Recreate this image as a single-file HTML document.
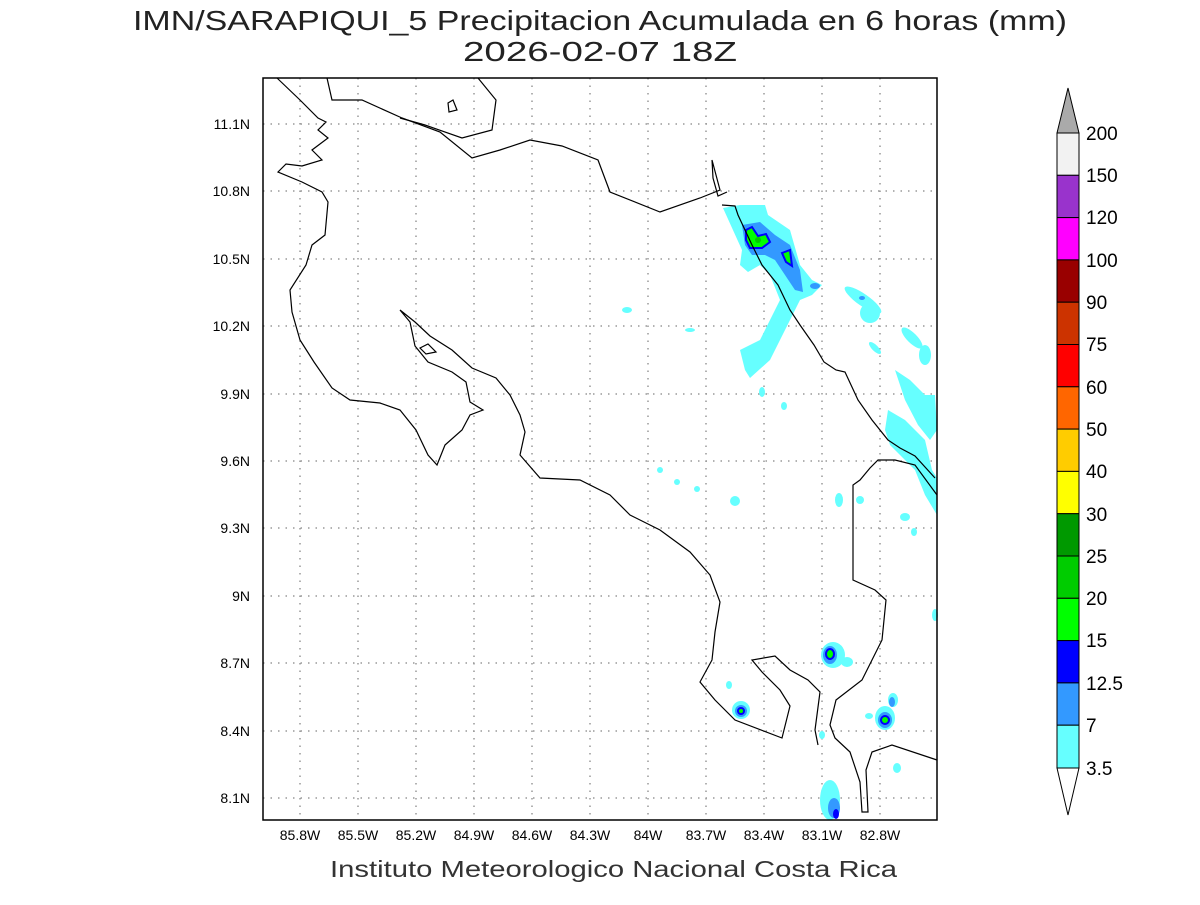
<!DOCTYPE html>
<html><head><meta charset="utf-8"><style>
body{margin:0;background:#fff;width:1200px;height:900px;overflow:hidden}
text{font-family:"Liberation Sans",sans-serif}
</style></head><body>
<svg width="1200" height="900" viewBox="0 0 1200 900" xmlns="http://www.w3.org/2000/svg">
<rect width="1200" height="900" fill="#fff"/>
<text x="133" y="30" font-size="28" fill="#222" textLength="934" lengthAdjust="spacingAndGlyphs">IMN/SARAPIQUI_5 Precipitacion Acumulada en 6 horas (mm)</text>
<text x="463" y="61" font-size="28" fill="#222" textLength="274" lengthAdjust="spacingAndGlyphs">2026-02-07 18Z</text>
<g stroke="#999" stroke-width="1.5" stroke-dasharray="1.5,6">
<line x1="300" y1="78" x2="300" y2="820"/><line x1="358" y1="78" x2="358" y2="820"/><line x1="416" y1="78" x2="416" y2="820"/><line x1="474" y1="78" x2="474" y2="820"/><line x1="532" y1="78" x2="532" y2="820"/><line x1="590" y1="78" x2="590" y2="820"/><line x1="648" y1="78" x2="648" y2="820"/><line x1="706" y1="78" x2="706" y2="820"/><line x1="764" y1="78" x2="764" y2="820"/><line x1="822" y1="78" x2="822" y2="820"/><line x1="880" y1="78" x2="880" y2="820"/>
<line x1="263" y1="124" x2="937" y2="124"/><line x1="263" y1="191" x2="937" y2="191"/><line x1="263" y1="259" x2="937" y2="259"/><line x1="263" y1="326" x2="937" y2="326"/><line x1="263" y1="394" x2="937" y2="394"/><line x1="263" y1="461" x2="937" y2="461"/><line x1="263" y1="528" x2="937" y2="528"/><line x1="263" y1="596" x2="937" y2="596"/><line x1="263" y1="663" x2="937" y2="663"/><line x1="263" y1="731" x2="937" y2="731"/><line x1="263" y1="798" x2="937" y2="798"/>
</g>
<g fill="#66ffff">
<path d="M723,208 L740,205 L765,205 L768,215 L790,230 L800,265 L812,280 L822,285 L812,295 L800,300 L790,320 L780,340 L770,360 L750,378 L745,370 L740,350 L760,340 L770,320 L780,300 L770,275 L760,265 L748,272 L740,265 L742,250 Z"/>
<ellipse cx="863" cy="300" rx="22" ry="6" transform="rotate(35 863 300)"/>
<ellipse cx="870" cy="313" rx="10" ry="10"/>
<ellipse cx="912" cy="338" rx="14" ry="5" transform="rotate(45 912 338)"/>
<ellipse cx="925" cy="355" rx="6" ry="10"/>
<ellipse cx="875" cy="348" rx="8" ry="3" transform="rotate(45 875 348)"/>
<path d="M895,370 L910,380 L925,395 L935,395 L937,430 L930,440 L918,425 L905,400 Z"/>
<path d="M888,410 L905,420 L925,440 L932,470 L937,478 L937,515 L925,495 L915,470 L900,455 L890,445 L885,430 Z"/>
<ellipse cx="627" cy="310" rx="5" ry="3"/><ellipse cx="690" cy="330" rx="5" ry="2"/>
<ellipse cx="762" cy="392" rx="3" ry="5"/><ellipse cx="784" cy="406" rx="3" ry="4"/>
<ellipse cx="735" cy="501" rx="5" ry="5"/><ellipse cx="660" cy="470" rx="3" ry="3"/><ellipse cx="677" cy="482" rx="3" ry="3"/><ellipse cx="697" cy="489" rx="3" ry="3"/>
<ellipse cx="839" cy="500" rx="4" ry="7"/><ellipse cx="860" cy="500" rx="4" ry="4"/><ellipse cx="905" cy="517" rx="5" ry="4"/><ellipse cx="914" cy="532" rx="3" ry="4"/><ellipse cx="935" cy="615" rx="3" ry="6"/>
<ellipse cx="833" cy="655" rx="12" ry="13"/><ellipse cx="847" cy="662" rx="6" ry="5"/>
<ellipse cx="741" cy="710" rx="9" ry="9"/><ellipse cx="729" cy="685" rx="3" ry="4"/>
<ellipse cx="885" cy="718" rx="10" ry="12"/><ellipse cx="893" cy="700" rx="5" ry="7"/><ellipse cx="869" cy="716" rx="4" ry="3"/><ellipse cx="897" cy="768" rx="4" ry="5"/>
<ellipse cx="830" cy="800" rx="10" ry="20"/><ellipse cx="822" cy="735" rx="3" ry="4"/>
</g>
<g fill="#3399ff">
<path d="M742,225 L760,222 L775,235 L790,245 L800,270 L803,292 L795,290 L785,275 L775,260 L765,255 L752,255 L745,245 Z"/>
<ellipse cx="815" cy="286" rx="5" ry="3"/><ellipse cx="862" cy="298" rx="3" ry="2"/>
<ellipse cx="830" cy="655" rx="7" ry="9"/><ellipse cx="741" cy="711" rx="6" ry="6"/><ellipse cx="885" cy="720" rx="7" ry="8"/><ellipse cx="892" cy="702" rx="3" ry="5"/><ellipse cx="834" cy="808" rx="6" ry="10"/>
</g>
<g fill="#00ff00" stroke="#0000ff" stroke-width="2">
<path d="M746,230 L752,227 L758,236 L766,234 L770,242 L762,248 L750,248 L746,240 Z"/>
<path d="M782,253 L790,250 L792,266 L786,262 Z"/>
<ellipse cx="830" cy="654" rx="4" ry="5"/><ellipse cx="741" cy="711" rx="3" ry="3"/><ellipse cx="885" cy="720" rx="4" ry="4"/>
</g>
<ellipse cx="758" cy="240" rx="3" ry="3" fill="#00cc00"/>
<ellipse cx="836" cy="814" rx="3" ry="5" fill="#0000ff"/>
<g fill="none" stroke="#000" stroke-width="1.2">
<path d="M277,78 L300,100 L318,118 L326,122 L318,130 L328,138 L312,150 L322,160 L302,166 L286,164 L278,172 L302,182 L322,192 L328,202 L325,235 L312,245 L306,265 L290,290 L292,312 L300,340 L314,362 L332,388 L350,400 L380,403 L400,410 L416,430 L428,455 L437,465 L445,445 L462,430 L470,415 L483,410 L470,402 L466,382 L452,372 L428,362 L415,346 L410,322 L400,310 L415,322 L430,336 L452,350 L472,368 L496,378 L510,395 L520,415 L525,432 L520,455 L540,478 L580,480 L610,495 L630,515 L660,530 L690,552 L710,575 L720,602 L715,632 L712,660 L700,682 L715,700 L735,720 L782,738 L790,706 L780,690 L762,672 L752,660 L775,656 L790,670 L808,680 L820,692 L815,730 L818,745"/>
<path d="M327,78 L332,100 L362,100 L402,118 L440,132 L472,158 L500,150 L530,140 L562,146 L598,160 L610,192 L660,212 L700,198 L720,190 L712,160 L713,178 L718,196 L727,192"/>
<path d="M478,78 L496,100 L492,130 L462,138 L425,125 L400,118"/>
<path d="M448,103 L453,100 L457,110 L449,112 Z"/>
<path d="M420,348 L428,344 L436,352 L426,354 Z"/>
<path d="M722,205 L735,206 L738,215 L752,245 L762,265 L778,285 L790,310 L800,325 L814,345 L824,362 L836,370 L845,372 L858,400 L872,420 L888,440 L900,448 L915,456 L935,478"/>
<path d="M937,495 L915,465 L895,460 L878,460 L870,468 L860,480 L853,485 L853,580 L875,590 L886,600 L882,640 L862,680 L836,700 L830,725 L835,738 L850,752 L860,782 L862,812 L868,812 L866,770 L872,752 L892,745 L937,760"/>
</g>
<rect x="263" y="78" width="674" height="742" fill="none" stroke="#000" stroke-width="1.5"/>
<g font-size="14" fill="#000" text-anchor="end">
<text x="250" y="129">11.1N</text><text x="250" y="196">10.8N</text><text x="250" y="264">10.5N</text><text x="250" y="331">10.2N</text><text x="250" y="399">9.9N</text><text x="250" y="466">9.6N</text><text x="250" y="533">9.3N</text><text x="250" y="601">9N</text><text x="250" y="668">8.7N</text><text x="250" y="736">8.4N</text><text x="250" y="803">8.1N</text>
</g>
<g font-size="14" fill="#000" text-anchor="middle">
<text x="300" y="840">85.8W</text><text x="358" y="840">85.5W</text><text x="416" y="840">85.2W</text><text x="474" y="840">84.9W</text><text x="532" y="840">84.6W</text><text x="590" y="840">84.3W</text><text x="648" y="840">84W</text><text x="706" y="840">83.7W</text><text x="764" y="840">83.4W</text><text x="822" y="840">83.1W</text><text x="880" y="840">82.8W</text>
</g>
<text x="330" y="877" font-size="23" fill="#333" textLength="567" lengthAdjust="spacingAndGlyphs">Instituto Meteorologico Nacional Costa Rica</text>
<g stroke="#000" stroke-width="1">
<polygon points="1057,133 1079,133 1068,88" fill="#aaaaaa"/>
<rect x="1057" y="133" width="22" height="42.3" fill="#f2f2f2"/>
<rect x="1057" y="175.3" width="22" height="42.3" fill="#9933cc"/>
<rect x="1057" y="217.6" width="22" height="42.3" fill="#ff00ff"/>
<rect x="1057" y="259.9" width="22" height="42.3" fill="#990000"/>
<rect x="1057" y="302.2" width="22" height="42.3" fill="#cc3300"/>
<rect x="1057" y="344.5" width="22" height="42.3" fill="#ff0000"/>
<rect x="1057" y="386.8" width="22" height="42.3" fill="#ff6600"/>
<rect x="1057" y="429.1" width="22" height="42.3" fill="#ffcc00"/>
<rect x="1057" y="471.4" width="22" height="42.3" fill="#ffff00"/>
<rect x="1057" y="513.7" width="22" height="42.3" fill="#009900"/>
<rect x="1057" y="556" width="22" height="42.3" fill="#00cc00"/>
<rect x="1057" y="598.3" width="22" height="42.3" fill="#00ff00"/>
<rect x="1057" y="640.6" width="22" height="42.3" fill="#0000ff"/>
<rect x="1057" y="682.9" width="22" height="42.3" fill="#3399ff"/>
<rect x="1057" y="725.2" width="22" height="42.8" fill="#66ffff"/>
<polygon points="1057,768 1079,768 1068,815" fill="#fff"/>
</g>
<g font-size="19" fill="#000">
<text x="1086" y="140">200</text><text x="1086" y="182">150</text><text x="1086" y="224">120</text><text x="1086" y="267">100</text><text x="1086" y="309">90</text><text x="1086" y="351">75</text><text x="1086" y="394">60</text><text x="1086" y="436">50</text><text x="1086" y="478">40</text><text x="1086" y="521">30</text><text x="1086" y="563">25</text><text x="1086" y="605">20</text><text x="1086" y="647">15</text><text x="1086" y="690">12.5</text><text x="1086" y="732">7</text><text x="1086" y="775">3.5</text>
</g>
</svg>
</body></html>
